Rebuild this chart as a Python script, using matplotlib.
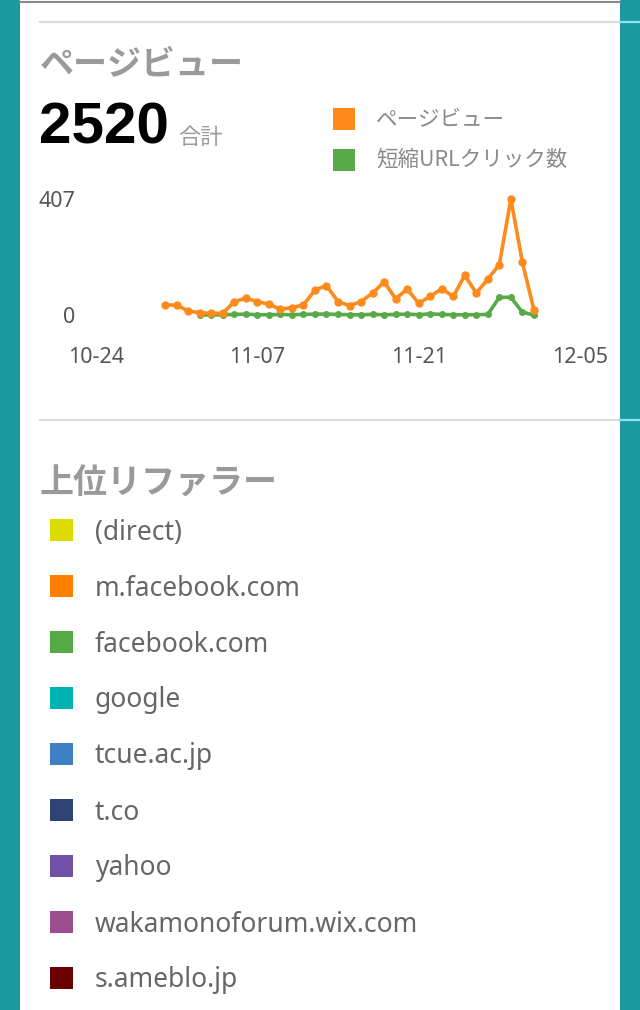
import matplotlib
matplotlib.use("Agg")
import matplotlib.pyplot as plt
import matplotlib.dates as mdates
from matplotlib.patches import Rectangle
from matplotlib.lines import Line2D
import pandas as pd

plt.rcParams['font.family'] = ['Noto Sans CJK JP', 'DejaVu Sans']

# ---------------- data ----------------
title_pv = "ページビュー"
total_value = "2520"
total_label = "合計"
series_names = ["ページビュー", "短縮URLクリック数"]
series_colors = ["#ff8a1c", "#57aa47"]

pv_start = "2014-10-30"
pageviews = [35, 35, 14, 8, 6, 6, 47, 59, 47, 38, 20, 26, 35, 88, 103, 47, 33,
             47, 77, 116, 57, 91, 41, 65, 92, 65, 139, 77, 126, 177, 407, 185, 18]
click_start = "2014-11-02"
clicks = [0, 0, 1, 2, 3, 1, 1, 2, 1, 2, 3, 3, 2, 1, 1, 2, 1, 2, 3, 1, 4, 2, 1, 1,
          1, 2, 62, 62, 10, 0]

x_ticks = ["2014-10-24", "2014-11-07", "2014-11-21", "2014-12-05"]
y_max = 407

title_ref = "上位リファラー"
referrers = ["(direct)", "m.facebook.com", "facebook.com", "google", "tcue.ac.jp",
             "t.co", "yahoo", "wakamonoforum.wix.com", "s.ameblo.jp"]
ref_colors = ["#dcdc00", "#ff8000", "#55aa44", "#00b3b3", "#3f7fc4",
              "#2e4372", "#6f52a8", "#9b4d8e", "#6b0000"]

# ---------------- figure ----------------
W, H = 640, 1010
fig = plt.figure(figsize=(W / 100, H / 100), dpi=100)
fig.patch.set_facecolor("#1b98a0")

def fx(px):
    return px / W

def fy(py):
    return 1 - py / H

# white panel
fig.patches.append(Rectangle((fx(20), 0), fx(600), 1, transform=fig.transFigure,
                             facecolor="white", edgecolor="none", zorder=0))
# top border line
fig.lines.append(Line2D([fx(20), fx(620)], [fy(1.5), fy(1.5)], transform=fig.transFigure,
                        color="#8a8a8a", lw=1.5))
# separators
for yy in (22, 420):
    fig.lines.append(Line2D([fx(40), fx(620)], [fy(yy), fy(yy)], transform=fig.transFigure,
                            color="#dcdcdc", lw=1.6))
    fig.lines.append(Line2D([fx(620), fx(640)], [fy(yy), fy(yy)], transform=fig.transFigure,
                            color="#8fe3ea", lw=1.6))

# titles
fig.text(fx(40), fy(64), title_pv, fontsize=24.5, fontweight="bold", color="#9a9a9a",
         va="center", ha="left")
fig.text(fx(39), fy(128), total_value, fontsize=42, fontweight="bold", color="black",
         va="center", ha="left", family=["Liberation Sans", "DejaVu Sans"])
fig.text(fx(178), fy(138), total_label, fontsize=16, color="#9a9a9a", va="center", ha="left")

# chart legend
for i, (nm, c) in enumerate(zip(series_names, series_colors)):
    yc = 119 + i * 41
    fig.patches.append(Rectangle((fx(333), fy(yc + 10.5)), fx(22), 21 / H,
                                 transform=fig.transFigure, facecolor=c, edgecolor="none"))
    fig.text(fx(376), fy(yc), nm, fontsize=15.5, color="#8a8a8a", va="center", ha="left")

# line chart
ax = fig.add_axes([fx(96), fy(315), fx(580 - 96), (315 - 199) / H])
ax.set_zorder(5)
pv_dates = pd.date_range(pv_start, periods=len(pageviews), freq="D")
ck_dates = pd.date_range(click_start, periods=len(clicks), freq="D")
ax.plot(pv_dates, pageviews, color=series_colors[0], lw=2.6, marker="o", ms=5,
        clip_on=False, zorder=3)
ax.plot(ck_dates, clicks, color=series_colors[1], lw=2.6, marker="o", ms=4,
        clip_on=False, zorder=2)
tick_dates = pd.to_datetime(x_ticks)
ax.set_xlim(tick_dates[0], tick_dates[-1])
ax.set_ylim(0, y_max)
ax.set_xticks(tick_dates)
ax.xaxis.set_major_formatter(mdates.DateFormatter("%m-%d"))
ax.set_yticks([0, y_max])
ax.tick_params(axis="both", length=0, labelsize=15.5, labelcolor="#555555")
ax.tick_params(axis="x", pad=23)
ax.tick_params(axis="y", pad=15)
for lab in ax.get_xticklabels() + ax.get_yticklabels():
    lab.set_family(["Noto Sans", "DejaVu Sans"])
for s in ax.spines.values():
    s.set_visible(False)
ax.set_facecolor("none")

# referrers
fig.text(fx(40), fy(483), title_ref, fontsize=24.5, fontweight="bold", color="#9a9a9a",
         va="center", ha="left")
for i, (nm, c) in enumerate(zip(referrers, ref_colors)):
    yc = 530 + i * 56
    fig.patches.append(Rectangle((fx(50), fy(yc + 11)), fx(23), 22 / H,
                                 transform=fig.transFigure, facecolor=c, edgecolor="none"))
    fig.text(fx(95), fy(yc + 2.5), nm, fontsize=19, color="#666666", va="center", ha="left",
             family=["Noto Sans", "DejaVu Sans"])

fig.savefig("out.png", dpi=100, facecolor=fig.get_facecolor())
